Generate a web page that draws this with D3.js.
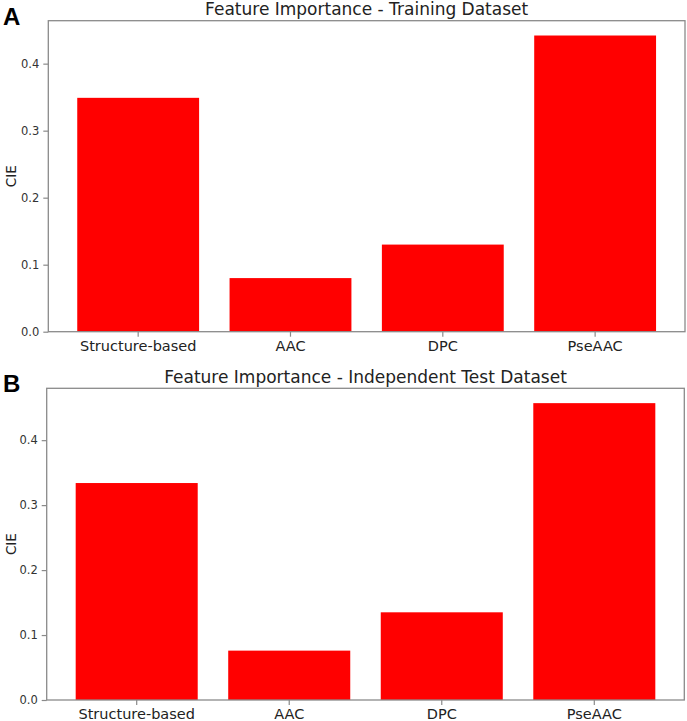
<!DOCTYPE html>
<html>
<head>
<meta charset="utf-8">
<script src="https://cdn.jsdelivr.net/npm/d3@7"></script>
<style>
  html, body { margin: 0; padding: 0; background: #fff; }
  svg { display: block; }
</style>
</head>
<body>
<svg id="chart" width="687" height="721"></svg>
<script>
const categories = ["Structure-based", "AAC", "DPC", "PseAAC"];
const trainingValues = [0.349, 0.080, 0.130, 0.442];
const testValues = [0.334, 0.076, 0.135, 0.457];
const yTicks = [0.0, 0.1, 0.2, 0.3, 0.4];
const panelLetters = ["A", "B"];
const panelTitles = ["Feature Importance - Training Dataset", "Feature Importance - Independent Test Dataset"];
const yLabel = "CIE";

const svg = d3.select("#chart");

const panels = [
  { letter: panelLetters[0], title: panelTitles[0], values: trainingValues,
    left: 48.3, right: 685, top: 20.7, bottom: 331.7, letterY: 25 },
  { letter: panelLetters[1], title: panelTitles[1], values: testValues,
    left: 46.7, right: 684.3, top: 388.3, bottom: 700, letterY: 392 }
];

panels.forEach(p => {
  const g = svg.append("g");
  const x = d3.scaleBand().domain(categories).range([p.left, p.right])
    .paddingInner(0.2).paddingOuter(0.19);
  const y = d3.scaleLinear().domain([0, d3.max(p.values) * 1.05]).range([p.bottom, p.top]);

  // bars
  g.selectAll("rect.bar").data(categories).enter().append("rect")
    .attr("class", "bar")
    .attr("x", d => x(d))
    .attr("width", x.bandwidth())
    .attr("y", (d, i) => y(p.values[i]))
    .attr("height", (d, i) => y(0) - y(p.values[i]))
    .attr("fill", "#ff0000");

  // frame
  g.append("rect")
    .attr("x", p.left).attr("y", p.top)
    .attr("width", p.right - p.left).attr("height", p.bottom - p.top)
    .attr("fill", "none").attr("stroke", "#8a8a8a").attr("stroke-width", 1.3);

  // y axis
  const yAxis = g.append("g").attr("transform", `translate(${p.left},0)`)
    .call(d3.axisLeft(y).tickValues(yTicks).tickFormat(d3.format(".1f")).tickSize(5).tickPadding(4));
  yAxis.select(".domain").remove();
  yAxis.selectAll(".tick line").attr("stroke", "#8a8a8a").attr("stroke-width", 1.2);
  yAxis.selectAll(".tick text").attr("fill", "#333").style("font-family", "DejaVu Sans").style("font-size", "11.5px");

  // x axis
  const xAxis = g.append("g").attr("transform", `translate(0,${p.bottom})`)
    .call(d3.axisBottom(x).tickSize(5).tickPadding(4));
  xAxis.select(".domain").remove();
  xAxis.selectAll(".tick line").attr("stroke", "#8a8a8a").attr("stroke-width", 1.2);
  xAxis.selectAll(".tick text").attr("fill", "#222").style("font-family", "DejaVu Sans").style("font-size", "14.5px");

  // y label
  g.append("text")
    .attr("transform", `translate(15.5,${(p.top + p.bottom) / 2}) rotate(-90)`)
    .attr("text-anchor", "middle")
    .style("font-family", "DejaVu Sans").style("font-size", "13.5px").attr("fill", "#222")
    .text(yLabel);

  // title
  g.append("text")
    .attr("x", (p.left + p.right) / 2).attr("y", p.top - 5.5)
    .attr("text-anchor", "middle")
    .style("font-family", "DejaVu Sans").style("font-size", "17px").attr("fill", "#222")
    .text(p.title);

  // panel letter
  g.append("text")
    .attr("x", 3).attr("y", p.letterY)
    .style("font-family", "Liberation Sans").style("font-weight", "bold").style("font-size", "24px").attr("fill", "#000")
    .text(p.letter);
});
</script>
</body>
</html>
